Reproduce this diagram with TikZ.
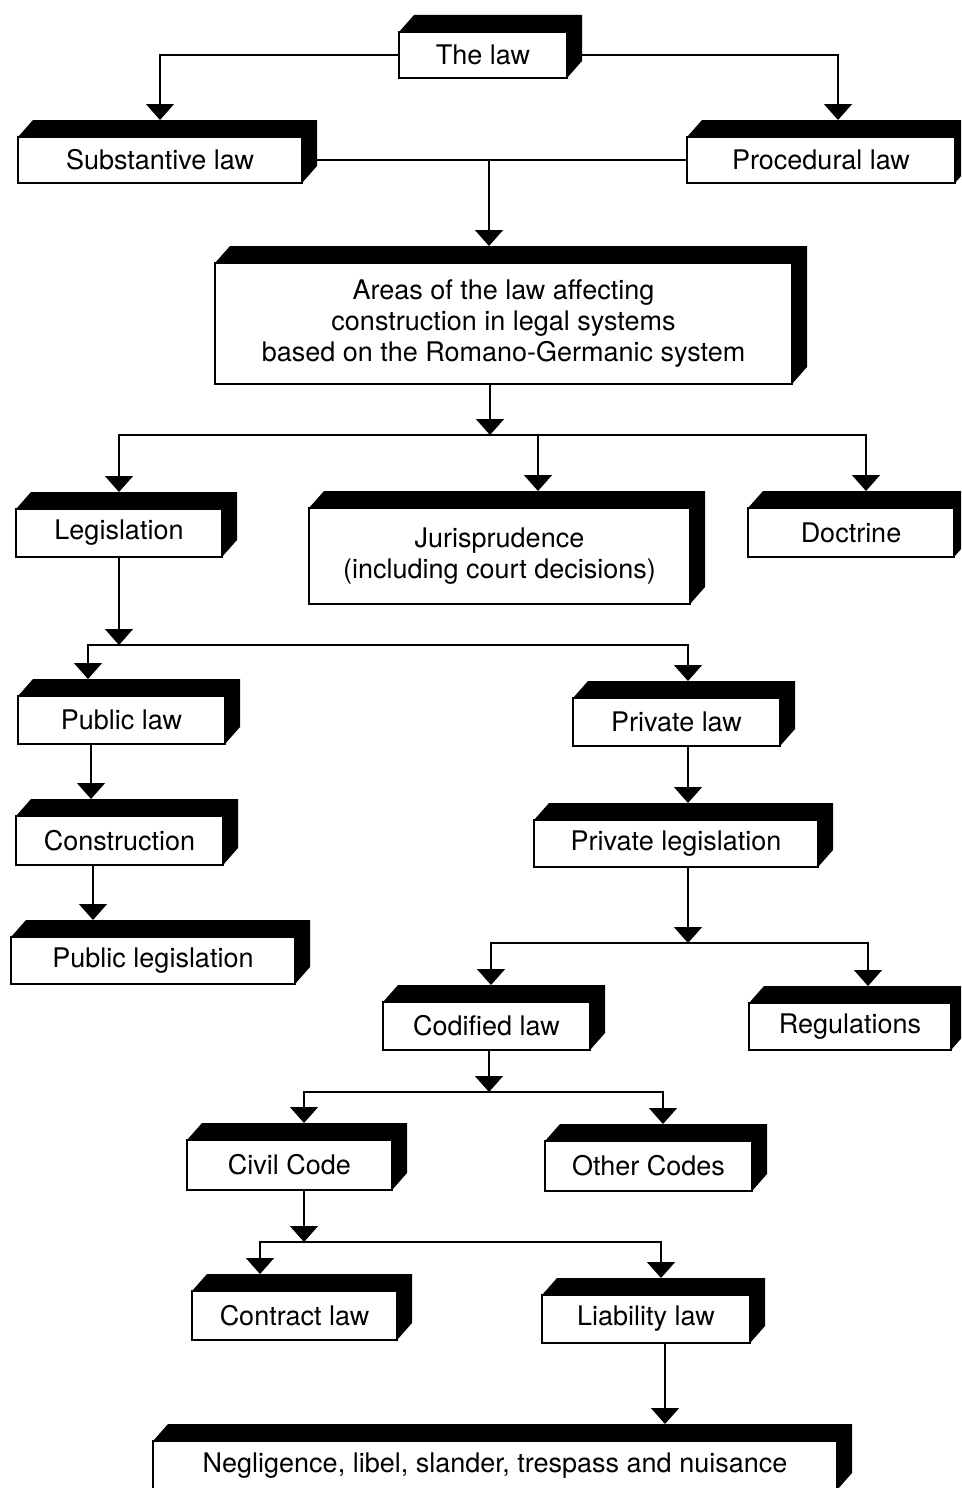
\documentclass[tikz,border=0pt]{standalone}
\usepackage{fontspec}
\setmainfont{TeX Gyre Heros}
\usetikzlibrary{arrows.meta}
\pgfdeclarelayer{bg}
\pgfsetlayers{bg,main}

\tikzset{
  face/.style={draw=black, fill=white, line width=1.4pt, inner sep=0pt,
    align=center, font=\fontsize{27}{31}\selectfont},
  link/.style={draw=black, line width=1.5pt},
  bar/.style={link, line cap=rect},
  arr/.style={link, -{Triangle[width=28pt,length=16pt]}},
}

% block with a black top and right face:
% name, left, top, right, bottom, x where the incoming arrow lands, text
\newcommand\lawbox[7]{%
  \fill[black] (#2,#3) -- ++(15,-17) -- (#4+15,#3-17) -- (#4+15,#5-17)
    -- (#4,#5) -- (#4,#3) -- cycle;
  \node[face, minimum width=#4pt-#2pt, minimum height=#5pt-#3pt]
    (#1) at ({(#2+#4)/2},{(#3+#5)/2}) {#7};
  \coordinate (#1-t) at (#6,#3-17);
}

\begin{document}
\begin{tikzpicture}[x=1pt,y=-1pt]
\useasboundingbox (0,0) rectangle (961,1488);
\clip (0,0) rectangle (961,1488);

\lawbox{law}{399}{32}{567}{78}{483}{The law}
\lawbox{subst}{18}{137}{302}{183}{160}{Substantive law}
\lawbox{proc}{687}{137}{955}{183}{838}{Procedural law}
\lawbox{areas}{215}{263}{792}{384}{489}{Areas of the law affecting\\construction in legal systems\\based on the Romano-Germanic system}
\lawbox{legis}{16}{509}{222}{557}{119}{Legislation}
\lawbox{juris}{309}{508}{690}{604}{538}{Jurisprudence\\(including court decisions)}
\lawbox{doct}{748}{508}{954}{557}{866}{Doctrine}
\lawbox{public}{18}{696}{225}{744}{88}{Public law}
\lawbox{private}{573}{698}{780}{746}{688}{Private law}
\lawbox{constr}{16}{816}{223}{865}{91}{Construction}
\lawbox{privleg}{534}{820}{818}{867}{688}{Private legislation}
\lawbox{publeg}{11}{937}{295}{984}{93}{Public legislation}
\lawbox{codif}{383}{1002}{590}{1050}{491}{Codified law}
\lawbox{regul}{749}{1003}{951}{1050}{868}{Regulations}
\lawbox{civil}{187}{1140}{392}{1190}{304}{Civil Code}
\lawbox{other}{545}{1141}{752}{1191}{663}{Other Codes}
\lawbox{contr}{192}{1291}{397}{1340}{260}{Contract law}
\lawbox{liab}{542}{1295}{750}{1343}{661}{Liability law}
\lawbox{negl}{153}{1441}{837}{1490}{665}{Negligence, libel, slander, trespass and nuisance}

% branch points
\coordinate (b1) at (490,435);
\coordinate (b2) at (119,645);
\coordinate (b3) at (688,943);
\coordinate (b4) at (489,1092);
\coordinate (b5) at (304,1242);

\begin{pgfonlayer}{bg}
\draw[arr] (law.west) -| (subst-t);
\draw[arr] (law.east) -| (proc-t);
\draw[link] (subst.east) -- (proc.west);
\draw[arr] (areas-t |- subst.east) -- (areas-t);

\draw[arr] (b1 |- areas.south) -- (b1);
\draw[bar] (legis-t |- b1) -- (doct-t |- b1);
\draw[arr] (legis-t |- b1) -- (legis-t);
\draw[arr] (juris-t |- b1) -- (juris-t);
\draw[arr] (doct-t |- b1) -- (doct-t);

\draw[arr] (b2 |- legis.south) -- (b2);
\draw[bar] (public-t |- b2) -- (private-t |- b2);
\draw[arr] (public-t |- b2) -- (public-t);
\draw[arr] (private-t |- b2) -- (private-t);

\draw[arr] (constr-t |- public.south) -- (constr-t);
\draw[arr] (publeg-t |- constr.south) -- (publeg-t);
\draw[arr] (privleg-t |- private.south) -- (privleg-t);

\draw[arr] (b3 |- privleg.south) -- (b3);
\draw[bar] (codif-t |- b3) -- (regul-t |- b3);
\draw[arr] (codif-t |- b3) -- (codif-t);
\draw[arr] (regul-t |- b3) -- (regul-t);

\draw[arr] (b4 |- codif.south) -- (b4);
\draw[bar] (civil-t |- b4) -- (other-t |- b4);
\draw[arr] (civil-t |- b4) -- (civil-t);
\draw[arr] (other-t |- b4) -- (other-t);

\draw[arr] (b5 |- civil.south) -- (b5);
\draw[bar] (contr-t |- b5) -- (liab-t |- b5);
\draw[arr] (contr-t |- b5) -- (contr-t);
\draw[arr] (liab-t |- b5) -- (liab-t);

\draw[arr] (negl-t |- liab.south) -- (negl-t);
\end{pgfonlayer}
\end{tikzpicture}
\end{document}
